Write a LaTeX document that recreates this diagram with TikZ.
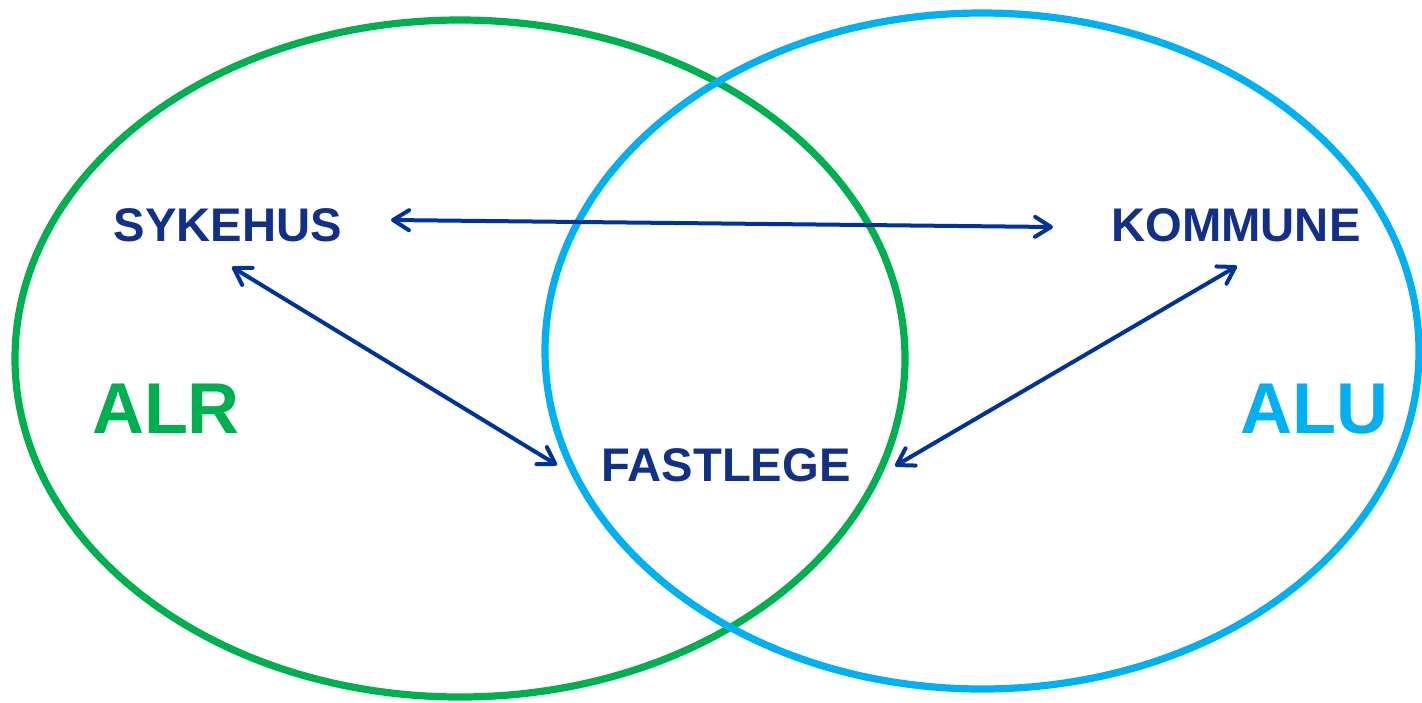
\documentclass[tikz,border=0pt]{standalone}
\usepackage{fontspec}
\setmainfont{Liberation Sans}
\usetikzlibrary{arrows.meta}
\definecolor{alrgreen}{RGB}{0,176,80}
\definecolor{alublue}{RGB}{0,176,240}
\definecolor{navytext}{RGB}{18,48,135}
\definecolor{navyline}{RGB}{0,51,153}
\tikzset{
  area/.style={line width=3.6pt},
  actor/.style={text=navytext, font=\fontsize{23.6}{27}\selectfont\bfseries, inner sep=0pt},
  region/.style={font=\fontsize{36}{42}\selectfont\bfseries, inner sep=0pt},
  link/.style={navyline, line width=2pt,
    {Straight Barb[length=8pt,width=10pt,round]}-{Straight Barb[length=8pt,width=10pt,round]}}
}
\begin{document}
\begin{tikzpicture}[x=0.5pt,y=-0.5pt]
  \useasboundingbox (0,0) rectangle (1422,702);
  % the two overlapping areas
  \draw[area, alrgreen] (460,358.5) ellipse [x radius=445, y radius=338.5];
  \draw[area, alublue] (982,351) ellipse [x radius=437, y radius=338];
  % area labels
  \node[region, text=alrgreen] (alr) at (166,409) {ALR};
  \node[region, text=alublue] (alu) at (1314,409) {ALU};
  % actors
  \node[actor] (sykehus) at (228,225) {SYKEHUS};
  \node[actor] (kommune) at (1236,225) {KOMMUNE};
  \node[actor] (fastlege) at (726,465) {FASTLEGE};
  % arrow end points beside the actors
  \coordinate (sykE) at (391,220);
  \coordinate (sykS) at (232,267);
  \coordinate (komW) at (1053,227);
  \coordinate (komS) at (1237,266);
  \coordinate (fasW) at (557,465);
  \coordinate (fasE) at (895,466);
  % connections
  \draw[link] (sykE) -- (komW);
  \draw[link] (sykS) -- (fasW);
  \draw[link] (komS) -- (fasE);
\end{tikzpicture}
\end{document}
